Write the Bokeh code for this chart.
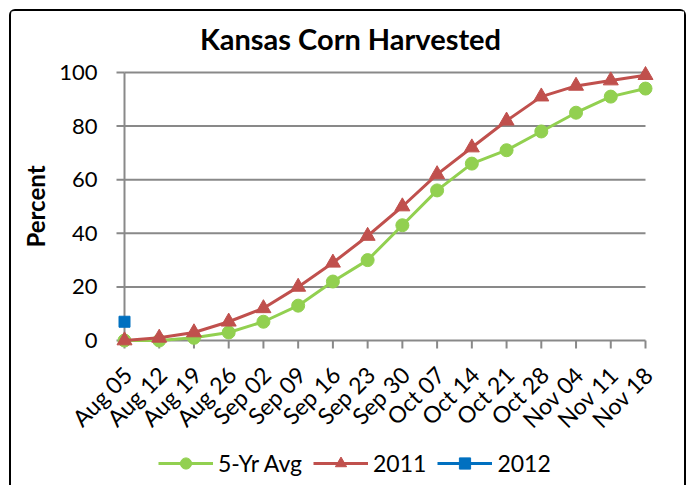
import math
from bokeh.plotting import figure
from bokeh.models import Range1d, Label, Legend, LegendItem
from bokeh.core.properties import value
from bokeh.embed import file_html
from bokeh.resources import INLINE

categories = ["Aug 05", "Aug 12", "Aug 19", "Aug 26", "Sep 02", "Sep 09", "Sep 16", "Sep 23",
              "Sep 30", "Oct 07", "Oct 14", "Oct 21", "Oct 28", "Nov 04", "Nov 11", "Nov 18"]
avg5 = [0, 0, 1, 3, 7, 13, 22, 30, 43, 56, 66, 71, 78, 85, 91, 94]
y2011 = [0, 1, 3, 7, 12, 20, 29, 39, 50, 62, 72, 82, 91, 95, 97, 99]
y2012 = [7]
y_ticks = [0, 20, 40, 60, 80, 100]
y_tick_labels = [str(t) for t in y_ticks]

FONT = "Lato"
GRAY = "#898989"
GREEN = "#92D050"
RED = "#C0504D"
BLUE = "#0070C0"

xs = list(range(len(categories)))

# canvas size and pixel anchors (from canvas top-left)
W, H = 673, 474
PX_X0, PX_X1 = 113, 634      # first / last category
PX_Y0, PX_Y1 = 329, 61       # y = 0 / y = 100
px_x = (PX_X1 - PX_X0) / (xs[-1] - xs[0])
px_y = (PX_Y0 - PX_Y1) / (y_ticks[-1] - y_ticks[0])
x_start = xs[0] - PX_X0 / px_x
x_end = xs[-1] + (W - PX_X1) / px_x
y_start = y_ticks[0] - (H - PX_Y0) / px_y
y_end = y_ticks[-1] + PX_Y1 / px_y
TICK = 8

p = figure(width=W, height=H, frame_width=W, frame_height=H,
           output_backend="svg", toolbar_location=None,
           x_range=Range1d(x_start, x_end), y_range=Range1d(y_start, y_end),
           x_axis_location=None, y_axis_location=None,
           min_border=0, min_border_left=0, min_border_right=0,
           min_border_top=0, min_border_bottom=0)
p.styles = {"margin-left": "9px", "margin-top": "9px", "border": "2px solid black",
            "border-bottom": "none", "border-radius": "6px 6px 0 0"}
p.outline_line_color = None
p.xgrid.visible = False
p.ygrid.visible = False

# gridlines
gy = y_ticks[1:]
p.segment(x0=[xs[0]] * len(gy), x1=[xs[-1]] * len(gy), y0=gy, y1=gy,
          line_color=GRAY, line_width=2)
# y axis: line, ticks, labels
p.segment(x0=[xs[0] - TICK / px_x] * len(y_ticks), x1=[xs[0]] * len(y_ticks), y0=y_ticks, y1=y_ticks,
          line_color=GRAY, line_width=2)
p.segment(x0=[xs[0]], x1=[xs[0]], y0=[y_ticks[0]], y1=[y_ticks[-1]], line_color=GRAY, line_width=2)
p.text(x=[xs[0] - 27 / px_x] * len(y_ticks), y=y_ticks, text=y_tick_labels,
       text_align="right", text_baseline="middle", text_font=value(FONT),
       text_font_size="22px", text_color="black")
# x axis: line, ticks, labels
p.segment(x0=xs, x1=xs, y0=[y_ticks[0]] * len(xs), y1=[y_ticks[0] - TICK / px_y] * len(xs),
          line_color=GRAY, line_width=2)
p.segment(x0=[xs[0]], x1=[xs[-1]], y0=[y_ticks[0]], y1=[y_ticks[0]], line_color=GRAY, line_width=2)
p.text(x=[x + 3 / px_x for x in xs], y=[y_ticks[0] - 30 / px_y] * len(xs), text=categories,
       angle=math.pi / 4, text_align="right", text_baseline="alphabetic",
       text_font=value(FONT), text_font_size="23px", text_color="black")

# series
l1 = p.line(xs, avg5, line_color=GREEN, line_width=3)
s1 = p.scatter(xs, avg5, marker="circle", size=13, fill_color=GREEN, line_color=GREEN)
l2 = p.line(xs, y2011, line_color=RED, line_width=3)
s2 = p.scatter(xs, y2011, marker="triangle", size=15, fill_color=RED, line_color=RED)
l3 = p.line(xs[:len(y2012)], y2012, line_color=BLUE, line_width=3)
s3 = p.scatter(xs[:len(y2012)], y2012, marker="square", size=11, fill_color=BLUE, line_color=BLUE)

legend = Legend(items=[LegendItem(label="5-Yr Avg", renderers=[l1, s1]),
                       LegendItem(label="2011", renderers=[l2, s2]),
                       LegendItem(label="2012", renderers=[l3, s3])],
                orientation="horizontal", location=(147, 8),
                border_line_color=None, background_fill_alpha=0,
                padding=0, margin=0, spacing=11, label_standoff=5,
                glyph_width=55, glyph_height=28, label_height=28,
                label_text_font=FONT, label_text_font_size="23px", label_text_color="black")
p.add_layout(legend, "center")

title = Label(x=339, y=H - 27, x_units="screen", y_units="screen", text="Kansas Corn Harvested",
              text_font=FONT, text_font_size="29px", text_font_style="bold",
              text_align="center", text_baseline="alphabetic", text_color="black")
p.add_layout(title)

ylab = Label(x=24, y=H - 195, x_units="screen", y_units="screen", text="Percent", angle=math.pi / 2,
             text_font=FONT, text_font_size="24px", text_font_style="bold",
             text_align="center", text_baseline="middle", text_color="black")
p.add_layout(ylab)

open("out.html", "w").write(file_html(p, INLINE))
